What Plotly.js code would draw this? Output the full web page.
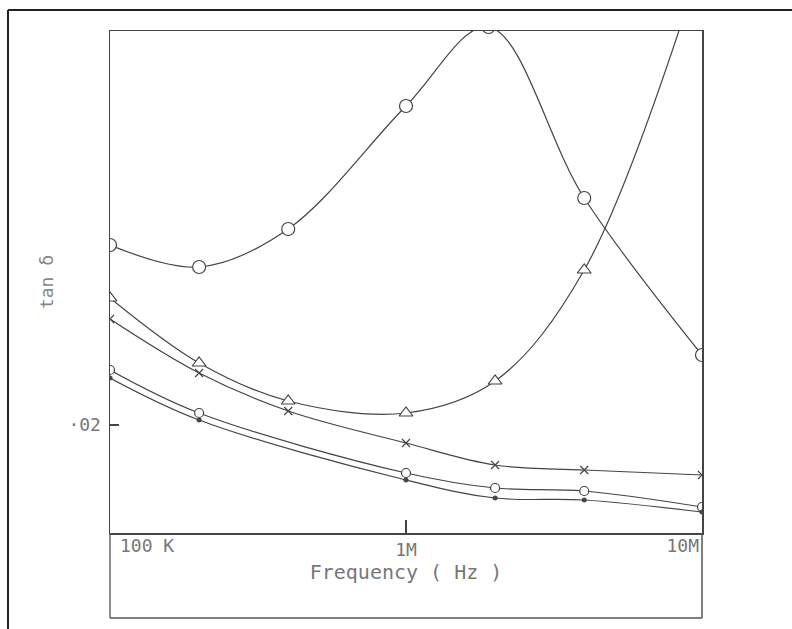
<!DOCTYPE html>
<html>
<head>
<meta charset="utf-8">
<script src="https://cdn.plot.ly/plotly-3.0.1.min.js"></script>
<style>html,body{margin:0;padding:0;background:#fff;}#chart{width:792px;height:629px;}</style>
</head>
<body>
<div id="chart"></div>
<script>
// Frequencies (Hz)
const freqFull = [1e5, 2e5, 4e5, 1e6, 2e6, 4e6, 1e7];
const freqPeak = [1e5, 2e5, 4e5, 1e6, 1.9e6, 4e6, 1e7];
const freqLow  = [1e5, 2e5, 1e6, 2e6, 4e6, 1e7];

// tan delta values
const seriesCircleBig = [0.0380, 0.0358, 0.0396, 0.0519, 0.0598, 0.0427, 0.0270];
const seriesTriangle  = [0.0327, 0.0262, 0.0224, 0.0212, 0.0244, 0.0355, 0.0665];
const seriesCross     = [0.0306, 0.0252, 0.0214, 0.0182, 0.0160, 0.0155, 0.0150];
const seriesCircleSm  = [0.0255, 0.0212, 0.0152, 0.0137, 0.0134, 0.0118];
const seriesDot       = [0.0247, 0.0205, 0.0145, 0.0127, 0.0125, 0.0113];

const xTickMid = [1e6], xTickMidText = ['1M'];
const xTickLeft = [1e5], xTickLeftText = ['100 K'];
const xTickRight = [1e7], xTickRightText = ['10M'];
const yTickVals = [0.02], yTickText = ['·02'];

const ink = '#444';
const lineStyle = {color: ink, width: 1.2, shape: 'spline', smoothing: 1};
function tr(x, y, sym, size, fillColor) {
  return {
    x: x, y: y, type: 'scatter', mode: 'lines+markers',
    line: lineStyle,
    marker: {symbol: sym, size: size, color: fillColor,
             line: {color: ink, width: 1.2}},
    showlegend: false, hoverinfo: 'x+y'
  };
}
const data = [
  tr(freqPeak, seriesCircleBig, 'circle', 13, '#fff'),
  tr(freqFull, seriesTriangle, 'triangle-up', 12, '#fff'),
  tr(freqFull, seriesCross, 'x-thin', 8, ink),
  tr(freqLow, seriesCircleSm, 'circle', 9, '#fff'),
  tr(freqLow, seriesDot, 'circle', 4, ink),
  {x: [], y: [], xaxis: 'x2', yaxis: 'y', showlegend: false},
  {x: [], y: [], xaxis: 'x3', yaxis: 'y', showlegend: false}
];

const L = 110, R = 90, T = 31, B = 96, W = 792, H = 629;
const pw = W - L - R, ph = H - T - B;
const px = v => (v - L) / pw;          // pixel -> paper x
const py = v => (H - B - v) / ph;      // pixel -> paper y

const tickFont = {family: 'DejaVu Sans Mono', size: 18, color: '#777'};
const xRange = [5, 7];

const layout = {
  width: W, height: H,
  margin: {l: L, r: R, t: T, b: B, pad: 0},
  paper_bgcolor: '#fff', plot_bgcolor: '#fff',
  showlegend: false,
  xaxis: {
    type: 'log', range: xRange,
    tickvals: xTickMid, ticktext: xTickMidText,
    ticks: 'inside', ticklen: 13, tickwidth: 1.2, tickcolor: ink,
    tickfont: tickFont,
    showgrid: false, zeroline: false,
    showline: true, mirror: true, linecolor: ink, linewidth: 1.5,
    title: {text: 'Frequency ( Hz )', font: {family: 'DejaVu Sans Mono', size: 20, color: '#777'}, standoff: 6}
  },
  xaxis2: {
    type: 'log', range: xRange, overlaying: 'x', anchor: 'y', side: 'bottom',
    tickvals: xTickLeft, ticktext: xTickLeftText,
    ticklabelposition: 'outside right', ticklabelshift: 10, ticks: '', tickfont: tickFont,
    showgrid: false, zeroline: false, showline: false
  },
  xaxis3: {
    type: 'log', range: xRange, overlaying: 'x', anchor: 'y', side: 'bottom',
    tickvals: xTickRight, ticktext: xTickRightText,
    ticklabelposition: 'outside left', ticklabelshift: -3, ticks: '', tickfont: tickFont,
    showgrid: false, zeroline: false, showline: false
  },
  yaxis: {
    range: [0.0092, 0.0594],
    tickvals: yTickVals, ticktext: yTickText,
    ticks: 'inside', ticklen: 9, tickwidth: 1.2, tickcolor: ink,
    ticklabelstandoff: 4,
    tickfont: tickFont,
    showgrid: false, zeroline: false,
    showline: true, mirror: true, linecolor: ink, linewidth: 1.5,
    title: {text: 'tan δ', font: {family: 'DejaVu Sans Mono', size: 18, color: '#888'}, standoff: 10}
  },
  shapes: [
    // outer frame of the scanned figure (top and left)
    {type: 'line', xref: 'paper', yref: 'paper', x0: px(8), x1: px(792), y0: py(10), y1: py(10), line: {color: '#222', width: 2}},
    {type: 'line', xref: 'paper', yref: 'paper', x0: px(8), x1: px(8), y0: py(10), y1: py(629), line: {color: '#222', width: 2}},
    // lower box below the frequency axis
    {type: 'line', xref: 'paper', yref: 'paper', x0: 0, x1: 0, y0: 0, y1: py(618), line: {color: '#666', width: 1.5}},
    {type: 'line', xref: 'paper', yref: 'paper', x0: 1, x1: 1, y0: 0, y1: py(618), line: {color: '#555', width: 1.5}},
    {type: 'line', xref: 'paper', yref: 'paper', x0: 0, x1: 1, y0: py(618), y1: py(618), line: {color: '#555', width: 1.5}}
  ]
};

Plotly.newPlot('chart', data, layout, {displayModeBar: false, staticPlot: true});
</script>
</body>
</html>
